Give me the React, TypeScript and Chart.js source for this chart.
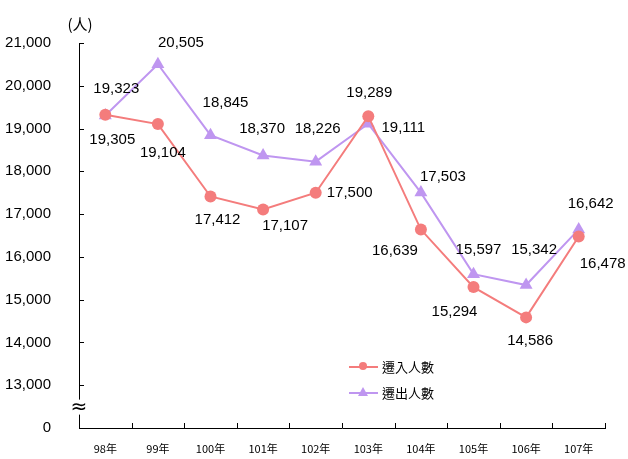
import React, { useEffect, useRef } from "react";
import { Chart, registerables } from "chart.js";

Chart.register(...registerables);

const years = ["98年", "99年", "100年", "101年", "102年", "103年", "104年", "105年", "106年", "107年"];
const moveIn = [19323, 19104, 17412, 17107, 17500, 19289, 16639, 15294, 14586, 16478];
const moveOut = [19305, 20505, 18845, 18370, 18226, 19111, 17503, 15597, 15342, 16642];
const seriesNames = ["遷入人數", "遷出人數"];
const unitLabel = "(人)";
const yMin = 12000;
const yMax = 21000;
const yStep = 1000;

// label offsets (px) relative to each point
const moveInLabelOffsets = [[11, -26], [5, 29], [7, 23], [22, 16], [34, 0], [1, -23], [-26, 21], [-19, 25], [4, 23], [24, 27]];
const moveOutLabelOffsets = [[7, 24], [23, -21], [15, -32], [-1, -27], [2, -33], [35, 4], [22, -16], [5, -24], [8, -35], [12, -26]];

const RED = "#F47C7C";
const PURPLE = "#BF96F0";
const NUM_FONT = '15px "Liberation Sans", Arial, sans-serif';
const CJK_FONT = '"Noto Sans CJK TC", "Noto Sans", sans-serif';

const fmt = (v: number) => v.toLocaleString("en-US");

const decorPlugin = {
  id: "decor",
  afterDraw(chart: any) {
    const ctx = chart.ctx;
    const ca = chart.chartArea;
    const ys = chart.scales.y;
    ctx.save();
    // inward tick marks
    ctx.strokeStyle = "#000";
    ctx.lineWidth = 1;
    ctx.beginPath();
    for (let v = yMin + yStep; v <= yMax; v += yStep) {
      const py = Math.round(ys.getPixelForValue(v)) + 0.5;
      ctx.moveTo(ca.left, py);
      ctx.lineTo(ca.left + 5, py);
    }
    const n = years.length;
    const w = (ca.right - ca.left) / n;
    for (let k = 1; k <= n; k++) {
      const px = Math.round(ca.left + k * w) + 0.5;
      ctx.moveTo(px, ca.bottom);
      ctx.lineTo(px, ca.bottom - 5);
    }
    ctx.stroke();

    // axis break symbol
    const by = ys.getPixelForValue(yMin + yStep / 2);
    ctx.fillStyle = "#fff";
    ctx.fillRect(ca.left - 3, by - 7, 7, 15);
    ctx.fillStyle = "#000";
    ctx.font = '20px "DejaVu Sans", sans-serif';
    ctx.textAlign = "center";
    ctx.textBaseline = "middle";
    ctx.fillText("≈", ca.left, by + 1);

    // unit label
    ctx.font = '15px ' + CJK_FONT;
    ctx.fillText(unitLabel, ca.left + 1, 24);

    // data labels
    ctx.font = NUM_FONT;
    const sets = [moveInLabelOffsets, moveOutLabelOffsets];
    chart.data.datasets.forEach((ds: any, di: number) => {
      const meta = chart.getDatasetMeta(di);
      meta.data.forEach((pt: any, i: number) => {
        const off = sets[di][i];
        ctx.fillText(fmt(ds.data[i]), pt.x + off[0], pt.y + off[1]);
      });
    });

    // legend
    const lx = 349;
    const ly = [367, 393];
    chart.data.datasets.forEach((ds: any, di: number) => {
      const y = ly[di];
      ctx.strokeStyle = ds.borderColor;
      ctx.lineWidth = 2;
      ctx.beginPath();
      ctx.moveTo(lx, y);
      ctx.lineTo(lx + 29, y);
      ctx.stroke();
      ctx.fillStyle = ds.borderColor;
      const cx = lx + 14;
      ctx.beginPath();
      if (di === 0) {
        ctx.arc(cx, y - 1, 4, 0, Math.PI * 2);
      } else {
        ctx.moveTo(cx, y - 6);
        ctx.lineTo(cx + 5, y + 3);
        ctx.lineTo(cx - 5, y + 3);
        ctx.closePath();
      }
      ctx.fill();
      ctx.fillStyle = "#000";
      ctx.font = '13px ' + CJK_FONT;
      ctx.textAlign = "left";
      ctx.textBaseline = "middle";
      ctx.fillText(ds.label, lx + 33, y);
    });
    ctx.restore();
  },
};

export default function App() {
  const ref = useRef<HTMLCanvasElement | null>(null);
  useEffect(() => {
    if (!ref.current) return;
    const chart = new Chart(ref.current, {
      type: "line",
      data: {
        labels: years,
        datasets: [
          {
            label: seriesNames[0],
            data: moveIn,
            borderColor: RED,
            backgroundColor: RED,
            borderWidth: 2,
            pointStyle: "circle",
            pointRadius: 6,
            pointBorderWidth: 0,
            tension: 0,
          },
          {
            label: seriesNames[1],
            data: moveOut,
            borderColor: PURPLE,
            backgroundColor: PURPLE,
            borderWidth: 2,
            pointStyle: "triangle",
            pointRadius: 7.5,
            pointBorderWidth: 0,
            tension: 0,
          },
        ],
      },
      options: {
        responsive: false,
        animation: false,
        layout: { padding: { top: 43, right: 23, left: 0, bottom: 0 } },
        plugins: { legend: { display: false }, tooltip: { enabled: false } },
        scales: {
          x: {
            offset: true,
            grid: { display: false },
            border: { display: true, color: "#000", width: 1 },
            ticks: {
              color: "#000",
              font: { family: CJK_FONT, size: 11, lineHeight: 1 },
              padding: 7,
              maxRotation: 0,
            },
            afterFit: (s: any) => {
              s.height = 31;
            },
          },
          y: {
            min: yMin,
            max: yMax,
            grid: { display: false },
            border: { display: true, color: "#000", width: 1 },
            ticks: {
              stepSize: yStep,
              color: "#000",
              padding: 20,
              font: { family: '"Liberation Sans", Arial, sans-serif', size: 15 },
              callback: (v: any) => (v === yMin ? "0" : fmt(Number(v))),
            },
            afterFit: (s: any) => {
              s.width = 79;
            },
          },
        },
      },
      plugins: [decorPlugin],
    });
    return () => chart.destroy();
  }, []);
  return (
    <div style={{ position: "absolute", left: 0, top: 0, width: 628, height: 459, background: "#fff" }}>
      <canvas ref={ref} width={628} height={459} />
    </div>
  );
}
